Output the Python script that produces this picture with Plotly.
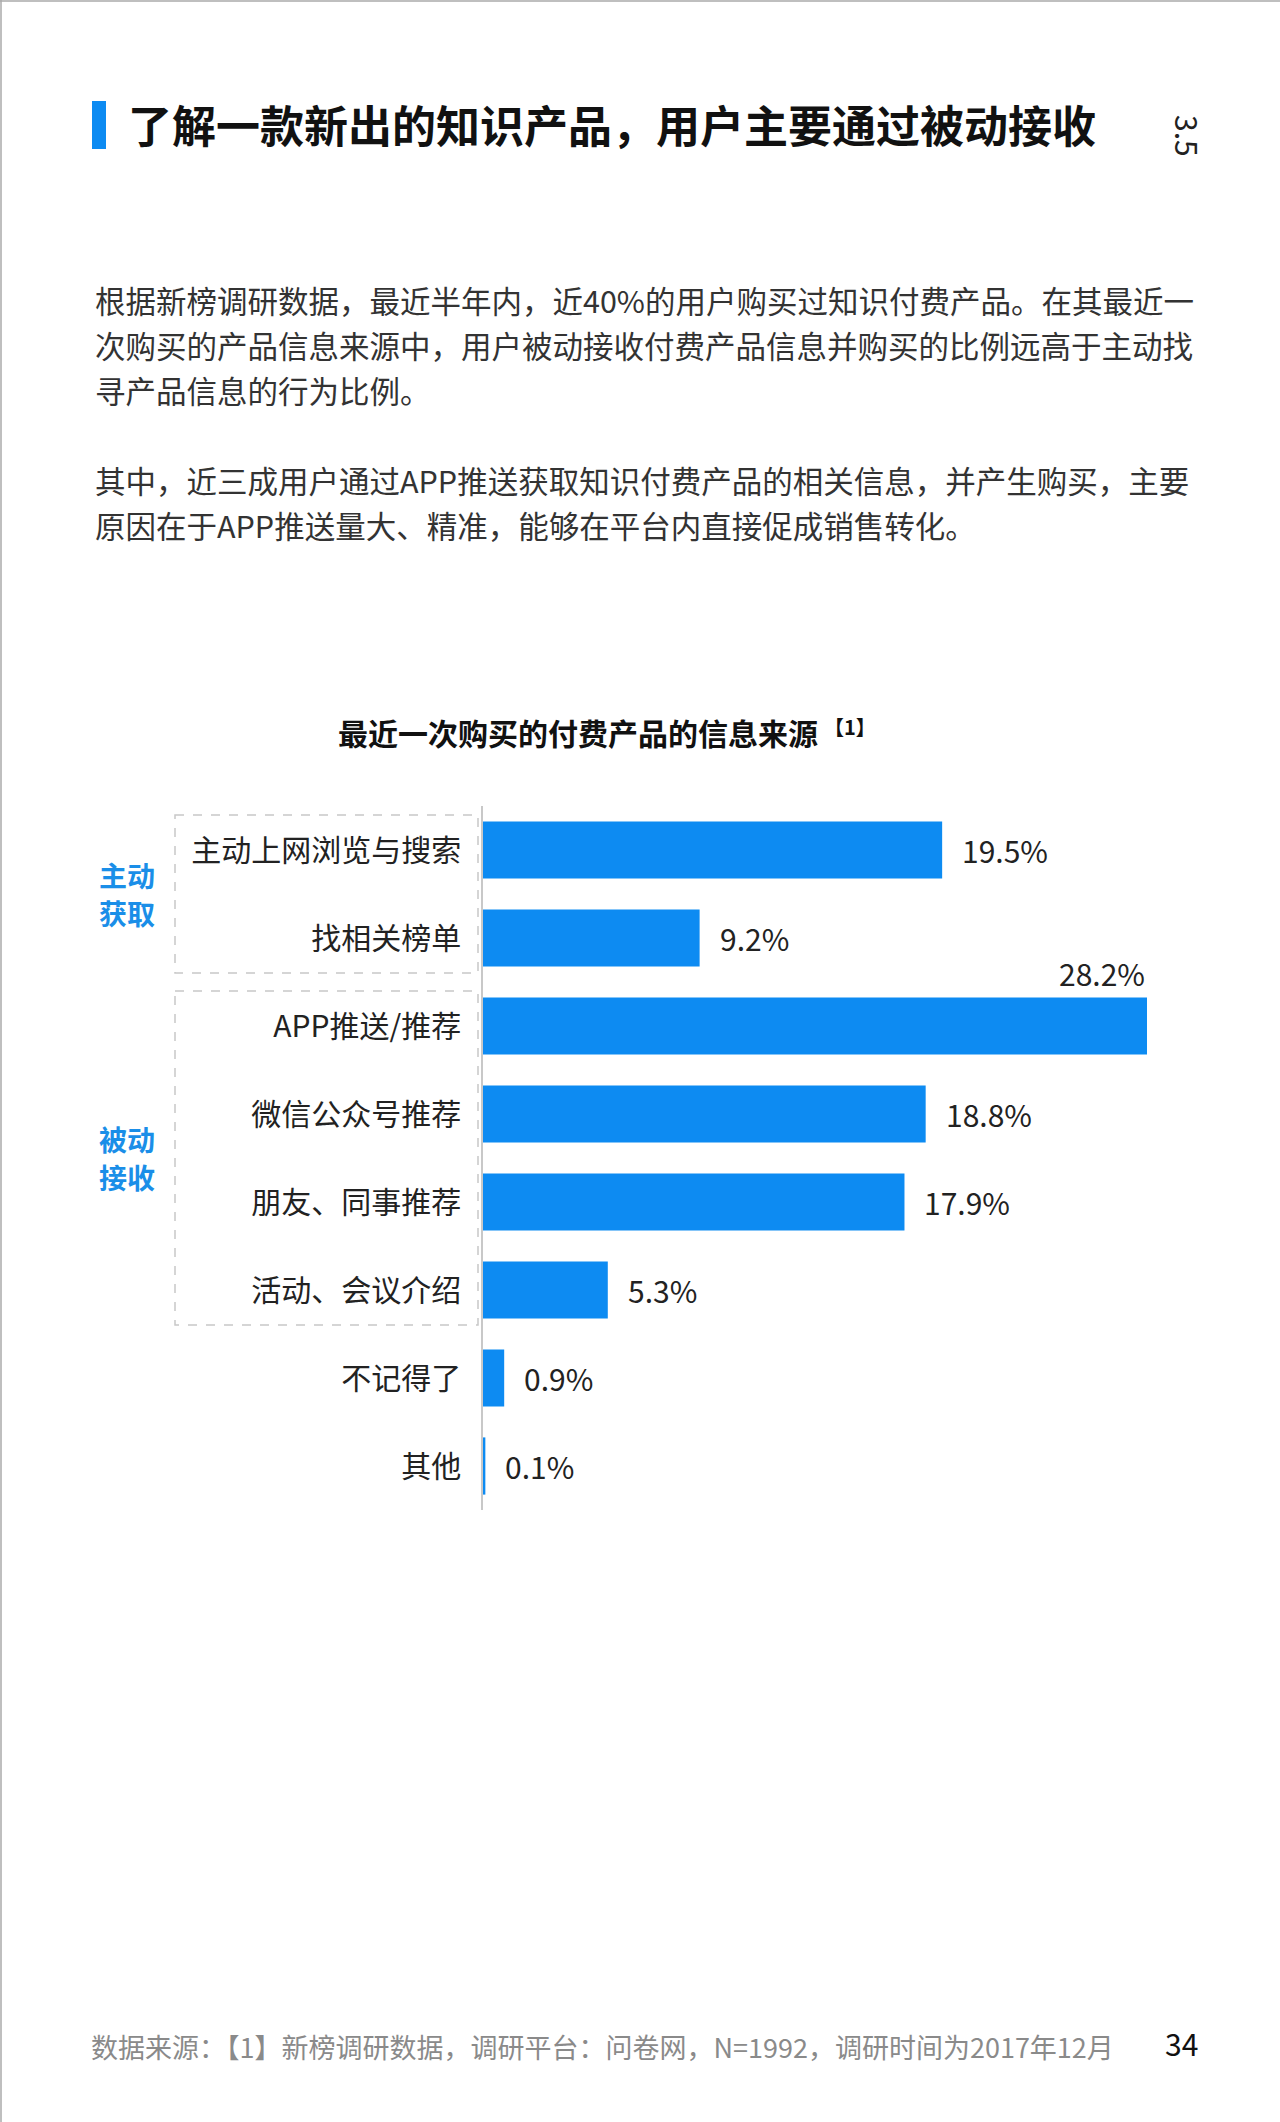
import plotly.graph_objects as go

# === data ===
categories = ["主动上网浏览与搜索", "找相关榜单", "APP推送/推荐", "微信公众号推荐",
              "朋友、同事推荐", "活动、会议介绍", "不记得了", "其他"]
values = [19.5, 9.2, 28.2, 18.8, 17.9, 5.3, 0.9, 0.1]
value_labels = ["19.5%", "9.2%", "28.2%", "18.8%", "17.9%", "5.3%", "0.9%", "0.1%"]
groups = [("主动", "获取"), ("被动", "接收")]
group_rows = [(0, 1), (2, 5)]

page_title = "了解一款新出的知识产品，用户主要通过被动接收"
section_no = "3.5"
chart_title = "最近一次购买的付费产品的信息来源"
paragraph_lines = [
    "根据新榜调研数据，最近半年内，近40%的用户购买过知识付费产品。在其最近一",
    "次购买的产品信息来源中，用户被动接收付费产品信息并购买的比例远高于主动找",
    "寻产品信息的行为比例。",
    "",
    "其中，近三成用户通过APP推送获取知识付费产品的相关信息，并产生购买，主要",
    "原因在于APP推送量大、精准，能够在平台内直接促成销售转化。",
]
footer = "数据来源：【1】新榜调研数据，调研平台：问卷网，N=1992，调研时间为2017年12月"
page_no = "34"

W, H = 1280, 2122
BLUE = "#0d8bf2"
FONT = "Noto Sans CJK SC"

# plot area in pixels
L, R, T, B = 483, 1147, 806, 1510


def px(x):
    return (x - L) / (R - L)


def py(y):
    return (B - y) / (B - T)


fig = go.Figure(go.Bar(
    x=values, y=categories, orientation="h",
    marker=dict(color=BLUE, line=dict(width=0)),
    width=0.65, hoverinfo="none",
))

annotations = []
vmax = max(values)
for cat, v, lab in zip(categories, values, value_labels):
    if v == vmax:
        annotations.append(dict(x=v, y=cat, xref="x", yref="y", text=lab,
                                showarrow=False, xanchor="right", yanchor="middle",
                                yshift=53, font=dict(size=30, color="#222", family=FONT)))
    else:
        annotations.append(dict(x=v, y=cat, xref="x", yref="y", text=lab,
                                showarrow=False, xanchor="left", yanchor="middle",
                                xshift=18, font=dict(size=30, color="#222", family=FONT)))


def text_at(x, y, s, size, color="#333", anchor="left", bold=False, angle=0):
    if bold:
        s = "<b>" + s + "</b>"
    annotations.append(dict(x=px(x), y=py(y), xref="paper", yref="paper", text=s,
                            showarrow=False, xanchor=anchor, yanchor="middle",
                            textangle=angle,
                            font=dict(size=size, color=color, family=FONT)))


# header
text_at(126, 124, page_title, 44, color="#111", bold=True)
text_at(1188, 136, section_no, 30, color="#222", anchor="center", angle=90)
for i, line in enumerate(paragraph_lines):
    if line:
        text_at(93, 300 + i * 45, line, 30.5, color="#333")

# chart title
text_at(578, 732, chart_title, 30, color="#111", anchor="center", bold=True)
text_at(822, 726, "【1】", 20, color="#111", bold=True)

# group labels and dashed boxes
shapes = []
box_pad = 9
for (g1, g2), (r0, r1) in zip(groups, group_rows):
    y0 = T + r0 * 88 + box_pad
    y1 = T + (r1 + 1) * 88 - box_pad
    shapes.append(dict(type="rect", xref="paper", yref="paper",
                       x0=px(175), x1=px(478), y0=py(y0), y1=py(y1),
                       line=dict(color="#c8c8c8", width=1.5, dash="dash")))
    mid = (y0 + y1) / 2
    text_at(127, mid - 19, g1, 28, color="#1a8ee8", anchor="center", bold=True)
    text_at(127, mid + 19, g2, 28, color="#1a8ee8", anchor="center", bold=True)

# title blue marker
shapes.append(dict(type="rect", xref="paper", yref="paper",
                   x0=px(92), x1=px(106), y0=py(101), y1=py(149),
                   fillcolor=BLUE, line=dict(width=0)))
# page border
shapes.append(dict(type="line", xref="paper", yref="paper",
                   x0=px(1), x1=px(1), y0=py(0), y1=py(H), line=dict(color="#aaa", width=1.5)))
shapes.append(dict(type="line", xref="paper", yref="paper",
                   x0=px(0), x1=px(W), y0=py(1), y1=py(1), line=dict(color="#aaa", width=1.5)))

# footer
text_at(89, 2046, footer, 27, color="#8a8a8a")
text_at(1181, 2043, page_no, 30, color="#111", anchor="center")

fig.update_layout(
    width=W, height=H,
    margin=dict(l=L, r=W - R, t=T, b=H - B),
    paper_bgcolor="white", plot_bgcolor="white",
    showlegend=False,
    bargap=0.35,
    xaxis=dict(range=[0, vmax], visible=False, fixedrange=True),
    yaxis=dict(type="category", categoryorder="array", categoryarray=categories,
               range=[len(categories) - 0.5, -0.5],
               showline=True, linecolor="#c8c8c8", linewidth=1.5,
               showgrid=False, ticks="", ticklabelstandoff=14, fixedrange=True,
               tickfont=dict(size=30, color="#222", family=FONT)),
    annotations=annotations,
    shapes=shapes,
    font=dict(family=FONT),
)

# drop the default body margin so the figure sits at the page origin
fig.write_html("out.html", config={"displayModeBar": False},
               post_script="document.body.style.margin='0';")
